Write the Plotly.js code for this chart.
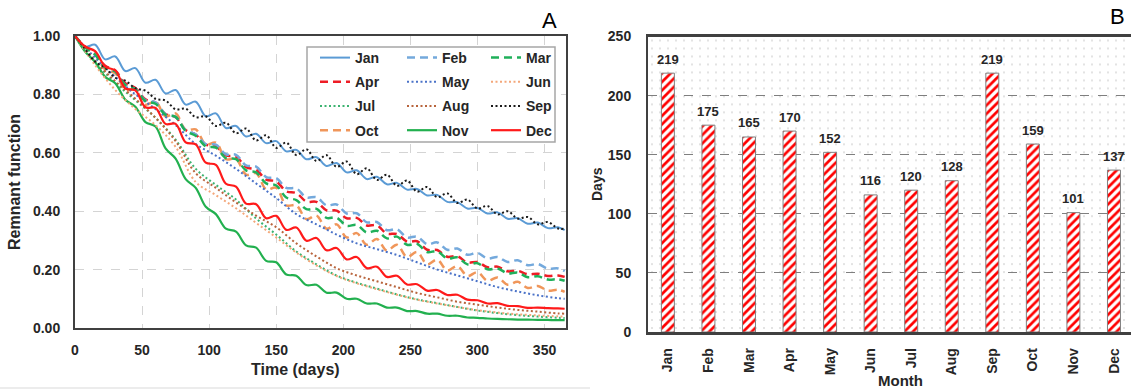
<!DOCTYPE html>
<html><head><meta charset="utf-8">
<script src="https://cdn.plot.ly/plotly-3.0.1.min.js"></script>
<style>html,body{margin:0;padding:0;background:#fff;}#chart{width:1131px;height:390px;}</style>
</head><body><div id="chart"></div>
<script>
// ---- Panel A: remnant function ----
const daysFine = [0,7.5,15,22.5,30,37.5,45,52.5,60,67.5,75,82.5,90,97.5,105,112.5,120,127.5,135,142.5,150,157.5,165,172.5,180,187.5,195,202.5,210,217.5,225,232.5,240,247.5,255,262.5,270,277.5,285,292.5,300,307.5,315,322.5,330,337.5,345,352.5,360,365];
const daysCoarse = [0,15,30,45,60,75,90,105,120,135,150,165,180,195,210,225,240,255,270,285,300,315,330,345,360,365];

const jan = [1.0,.963,.970,.920,.930,.880,.890,.840,.850,.803,.815,.765,.775,.725,.735,.685,.692,.656,.665,.633,.640,.605,.610,.578,.585,.555,.565,.533,.540,.510,.518,.492,.497,.474,.476,.454,.456,.432,.431,.409,.411,.392,.396,.374,.376,.357,.361,.342,.345,.335];
const feb = [1.0,.961,.936,.892,.878,.832,.818,.780,.773,.732,.723,.677,.663,.630,.628,.595,.593,.557,.553,.517,.513,.480,.478,.447,.448,.420,.423,.392,.393,.362,.363,.335,.338,.310,.313,.287,.293,.268,.272,.251,.257,.238,.243,.226,.232,.215,.219,.203,.204,.195];
const mar = [1.0,.961,.936,.892,.878,.832,.818,.777,.768,.730,.723,.675,.658,.622,.618,.582,.578,.540,.533,.495,.488,.447,.438,.407,.408,.377,.378,.350,.353,.327,.333,.307,.313,.285,.288,.260,.263,.238,.242,.218,.222,.201,.204,.187,.190,.174,.177,.166,.167,.162];
const apr = [1.0,.964,.941,.898,.882,.838,.822,.783,.772,.733,.722,.678,.662,.628,.622,.591,.587,.551,.542,.508,.502,.468,.462,.433,.432,.403,.402,.376,.377,.351,.352,.323,.322,.296,.297,.268,.267,.244,.246,.224,.226,.208,.210,.194,.196,.184,.186,.178,.180,.175];
const may = [1.0,.925,.86,.80,.75,.695,.63,.59,.545,.495,.445,.39,.355,.32,.29,.27,.25,.225,.20,.18,.16,.14,.125,.112,.102,.10];
const jun = [1.0,.90,.815,.75,.695,.62,.50,.455,.41,.36,.31,.258,.214,.178,.153,.133,.114,.097,.084,.072,.061,.053,.047,.043,.04,.039];
const jul = [1.0,.91,.84,.78,.72,.645,.545,.49,.44,.375,.32,.262,.218,.18,.155,.135,.115,.098,.085,.072,.06,.051,.044,.039,.035,.034];
const aug = [1.0,.915,.845,.785,.72,.64,.53,.48,.43,.385,.345,.29,.245,.205,.18,.16,.14,.12,.105,.09,.08,.07,.062,.056,.05,.049];
const sep = [1.0,.955,.912,.891,.857,.847,.821,.813,.785,.779,.749,.751,.722,.725,.692,.703,.667,.683,.642,.660,.617,.635,.592,.612,.572,.592,.552,.570,.527,.547,.507,.525,.487,.505,.467,.483,.448,.461,.428,.440,.409,.418,.389,.400,.375,.380,.355,.363,.341,.340];
const oct = [1.0,.960,.938,.885,.872,.815,.815,.765,.775,.725,.735,.678,.680,.628,.635,.578,.580,.525,.530,.475,.480,.420,.420,.373,.385,.340,.355,.310,.325,.285,.305,.265,.285,.243,.260,.218,.234,.197,.212,.178,.191,.162,.173,.148,.158,.137,.144,.128,.131,.124];
const nov = [1.0,.947,.911,.860,.838,.782,.758,.705,.690,.615,.580,.510,.480,.415,.390,.340,.330,.283,.275,.230,.225,.183,.179,.147,.148,.121,.121,.100,.100,.084,.084,.070,.070,.058,.058,.049,.049,.042,.042,.036,.035,.0325,.031,.030,.029,.0285,.028,.0275,.027,.027];
const dec = [1.0,.964,.948,.895,.882,.821,.814,.756,.754,.699,.699,.636,.629,.566,.559,.494,.484,.426,.424,.376,.384,.336,.344,.299,.308,.266,.274,.235,.243,.205,.210,.175,.179,.149,.150,.128,.130,.113,.114,.097,.095,.084,.085,.076,.075,.069,.070,.068,.067,.066];

const yTicksA = [0,0.2,0.4,0.6,0.8,1.0];
const xTicksA = [0,50,100,150,200,250,300,350];

// ---- Panel B: days per month ----
const months = ["Jan","Feb","Mar","Apr","May","Jun","Jul","Aug","Sep","Oct","Nov","Dec"];
const daysB = [219,175,165,170,152,116,120,128,219,159,101,137];
const yTicksB = [0,50,100,150,200,250];

const FONT = "Liberation Sans, Arial, sans-serif";
const DOT = "2px,2.5px", DASH = "8px,5px";

function line(name, x, y, color, dash, width, legend) {
  return {type:"scatter", mode:"lines", name:name, x:x, y:y, xaxis:"x", yaxis:"y",
    line:{color:color, dash:dash, width:width, shape:"spline", smoothing:1},
    legend:legend, legendgroup:name};
}

const traces = [
  line("Jan", daysFine, jan, "#5b9bd5", "solid", 2, "legend"),
  line("Apr", daysFine, apr, "#ee1c25", DASH, 2.5, "legend"),
  line("Jul", daysCoarse, jul, "#3cb371", DOT, 2, "legend"),
  line("Oct", daysFine, oct, "#f0965a", DASH, 2.5, "legend"),
  line("Feb", daysFine, feb, "#74a9dc", DASH, 2.5, "legend2"),
  line("May", daysCoarse, may, "#4a72c8", DOT, 2, "legend2"),
  line("Aug", daysCoarse, aug, "#b8643c", DOT, 2, "legend2"),
  line("Nov", daysFine, nov, "#22b04f", "solid", 2.2, "legend2"),
  line("Mar", daysFine, mar, "#1fb05a", DASH, 2.5, "legend3"),
  line("Jun", daysCoarse, jun, "#f4a77a", DOT, 2, "legend3"),
  line("Sep", daysFine, sep, "#1a1a1a", DOT, 2, "legend3"),
  line("Dec", daysFine, dec, "#ff1a1a", "solid", 2.2, "legend3"),
  {type:"bar", x:months, y:daysB, xaxis:"x2", yaxis:"y2", showlegend:false,
    marker:{color:"#ffffff", line:{color:"#808080", width:1},
      pattern:{shape:"/", fgcolor:"#ff0000", bgcolor:"#ffffff", size:6, solidity:0.45}}}
];

// dotted background for panel B
const W = 483, H = 296;
const svg = `<svg xmlns="http://www.w3.org/2000/svg" width="${W}" height="${H}"><defs><pattern id="p" width="8" height="8" patternUnits="userSpaceOnUse"><circle cx="4" cy="4" r="0.8" fill="#c0c0c0"/></pattern></defs><rect width="${W}" height="${H}" fill="url(#p)"/></svg>`;
const svgURI = "data:image/svg+xml;charset=utf-8," + encodeURIComponent(svg);

const px = v => v/1131, py = v => 1 - v/390;
const legFont = {family:FONT, size:14, color:"#262626", weight:"bold"};
const legCommon = {bgcolor:"rgba(0,0,0,0)", borderwidth:0, font:legFont, xanchor:"left", yanchor:"top", tracegroupgap:3, itemwidth:30};
const boldFont = s => ({family:FONT, size:s, color:"#262626", weight:"bold"});

// bar value labels, placed through the data axes
const barLabels = months.map((m, i) => ({text:String(daysB[i]), x:m, y:daysB[i], xref:"x2", yref:"y2",
  xanchor:"center", yanchor:"middle", yshift:14, showarrow:false, font:boldFont(13)}));

const layout = {
  width:1131, height:390, margin:{l:0,r:0,t:0,b:0},
  paper_bgcolor:"#ffffff", plot_bgcolor:"#ffffff",
  font:{family:FONT, color:"#262626"},
  bargap:0.68,
  xaxis:{domain:[px(75), px(566)], range:[0,366], tickvals:xTicksA, ticktext:xTicksA.map(String),
    showgrid:true, gridcolor:"#d4d4d4", griddash:"dash", gridwidth:1,
    showline:true, linecolor:"#404040", linewidth:2, mirror:true, zeroline:false, ticks:"",
    ticklabelstandoff:8,
    tickfont:boldFont(14)},
  yaxis:{domain:[py(328), py(36)], range:[0,1], tickvals:yTicksA, tickformat:".2f",
    showgrid:true, gridcolor:"#d4d4d4", griddash:"dash", gridwidth:1,
    showline:true, linecolor:"#404040", linewidth:2, mirror:true, zeroline:false, ticks:"",
    ticklabelstandoff:10,
    tickfont:boldFont(14),
    title:{text:"Remnant function", font:boldFont(16), standoff:8}},
  xaxis2:{domain:[px(648), 1], range:[-0.49, 11.42], type:"category", anchor:"y2",
    showgrid:false, showline:true, linecolor:"#404040", linewidth:2.5, mirror:true, ticks:"",
    tickangle:-90, ticklabelstandoff:8,
    tickfont:boldFont(14)},
  yaxis2:{domain:[py(332), py(36.5)], range:[0,250], tickvals:yTicksB, anchor:"x2",
    showgrid:true, gridcolor:"#7f7f7f", griddash:"dash", gridwidth:1,
    showline:true, linecolor:"#404040", linewidth:2, zeroline:false, ticks:"",
    ticklabelstandoff:12,
    tickfont:boldFont(14),
    title:{text:"Days", font:boldFont(14), standoff:2}},
  legend: Object.assign({x:px(315), y:py(42)}, legCommon),
  legend2: Object.assign({x:px(402), y:py(42)}, legCommon),
  legend3: Object.assign({x:px(486), y:py(42)}, legCommon),
  shapes:[
    {type:"rect", xref:"paper", yref:"paper", x0:px(307), x1:px(555), y0:py(142), y1:py(47),
      line:{color:"#a6a6a6", width:1.5}, fillcolor:"#ffffff", layer:"above"},
    {type:"line", xref:"paper", yref:"paper", x0:0, x1:px(590), y0:py(388), y1:py(388),
      line:{color:"#d9d9d9", width:1}}
  ],
  images:[{source:svgURI, xref:"paper", yref:"paper", x:px(648), y:py(36.5), sizex:1-px(648), sizey:py(36.5)-py(332),
    xanchor:"left", yanchor:"top", sizing:"stretch", layer:"below"}],
  annotations:[
    {text:"Time (days)", xref:"paper", yref:"paper", x:px(295), y:py(369), xanchor:"center", yanchor:"middle", showarrow:false, font:boldFont(16)},
    {text:"Month", xref:"paper", yref:"paper", x:px(900), y:py(380), xanchor:"center", yanchor:"middle", showarrow:false, font:boldFont(15)},
    {text:"A", xref:"paper", yref:"paper", x:px(549), y:py(20), xanchor:"center", yanchor:"middle", showarrow:false, font:{family:FONT, size:22, color:"#000"}},
    {text:"B", xref:"paper", yref:"paper", x:px(1117), y:py(17), xanchor:"center", yanchor:"middle", showarrow:false, font:{family:FONT, size:22, color:"#000"}}
  ].concat(barLabels)
};

Plotly.newPlot("chart", traces, layout, {displayModeBar:false, staticPlot:true});
</script></body></html>
